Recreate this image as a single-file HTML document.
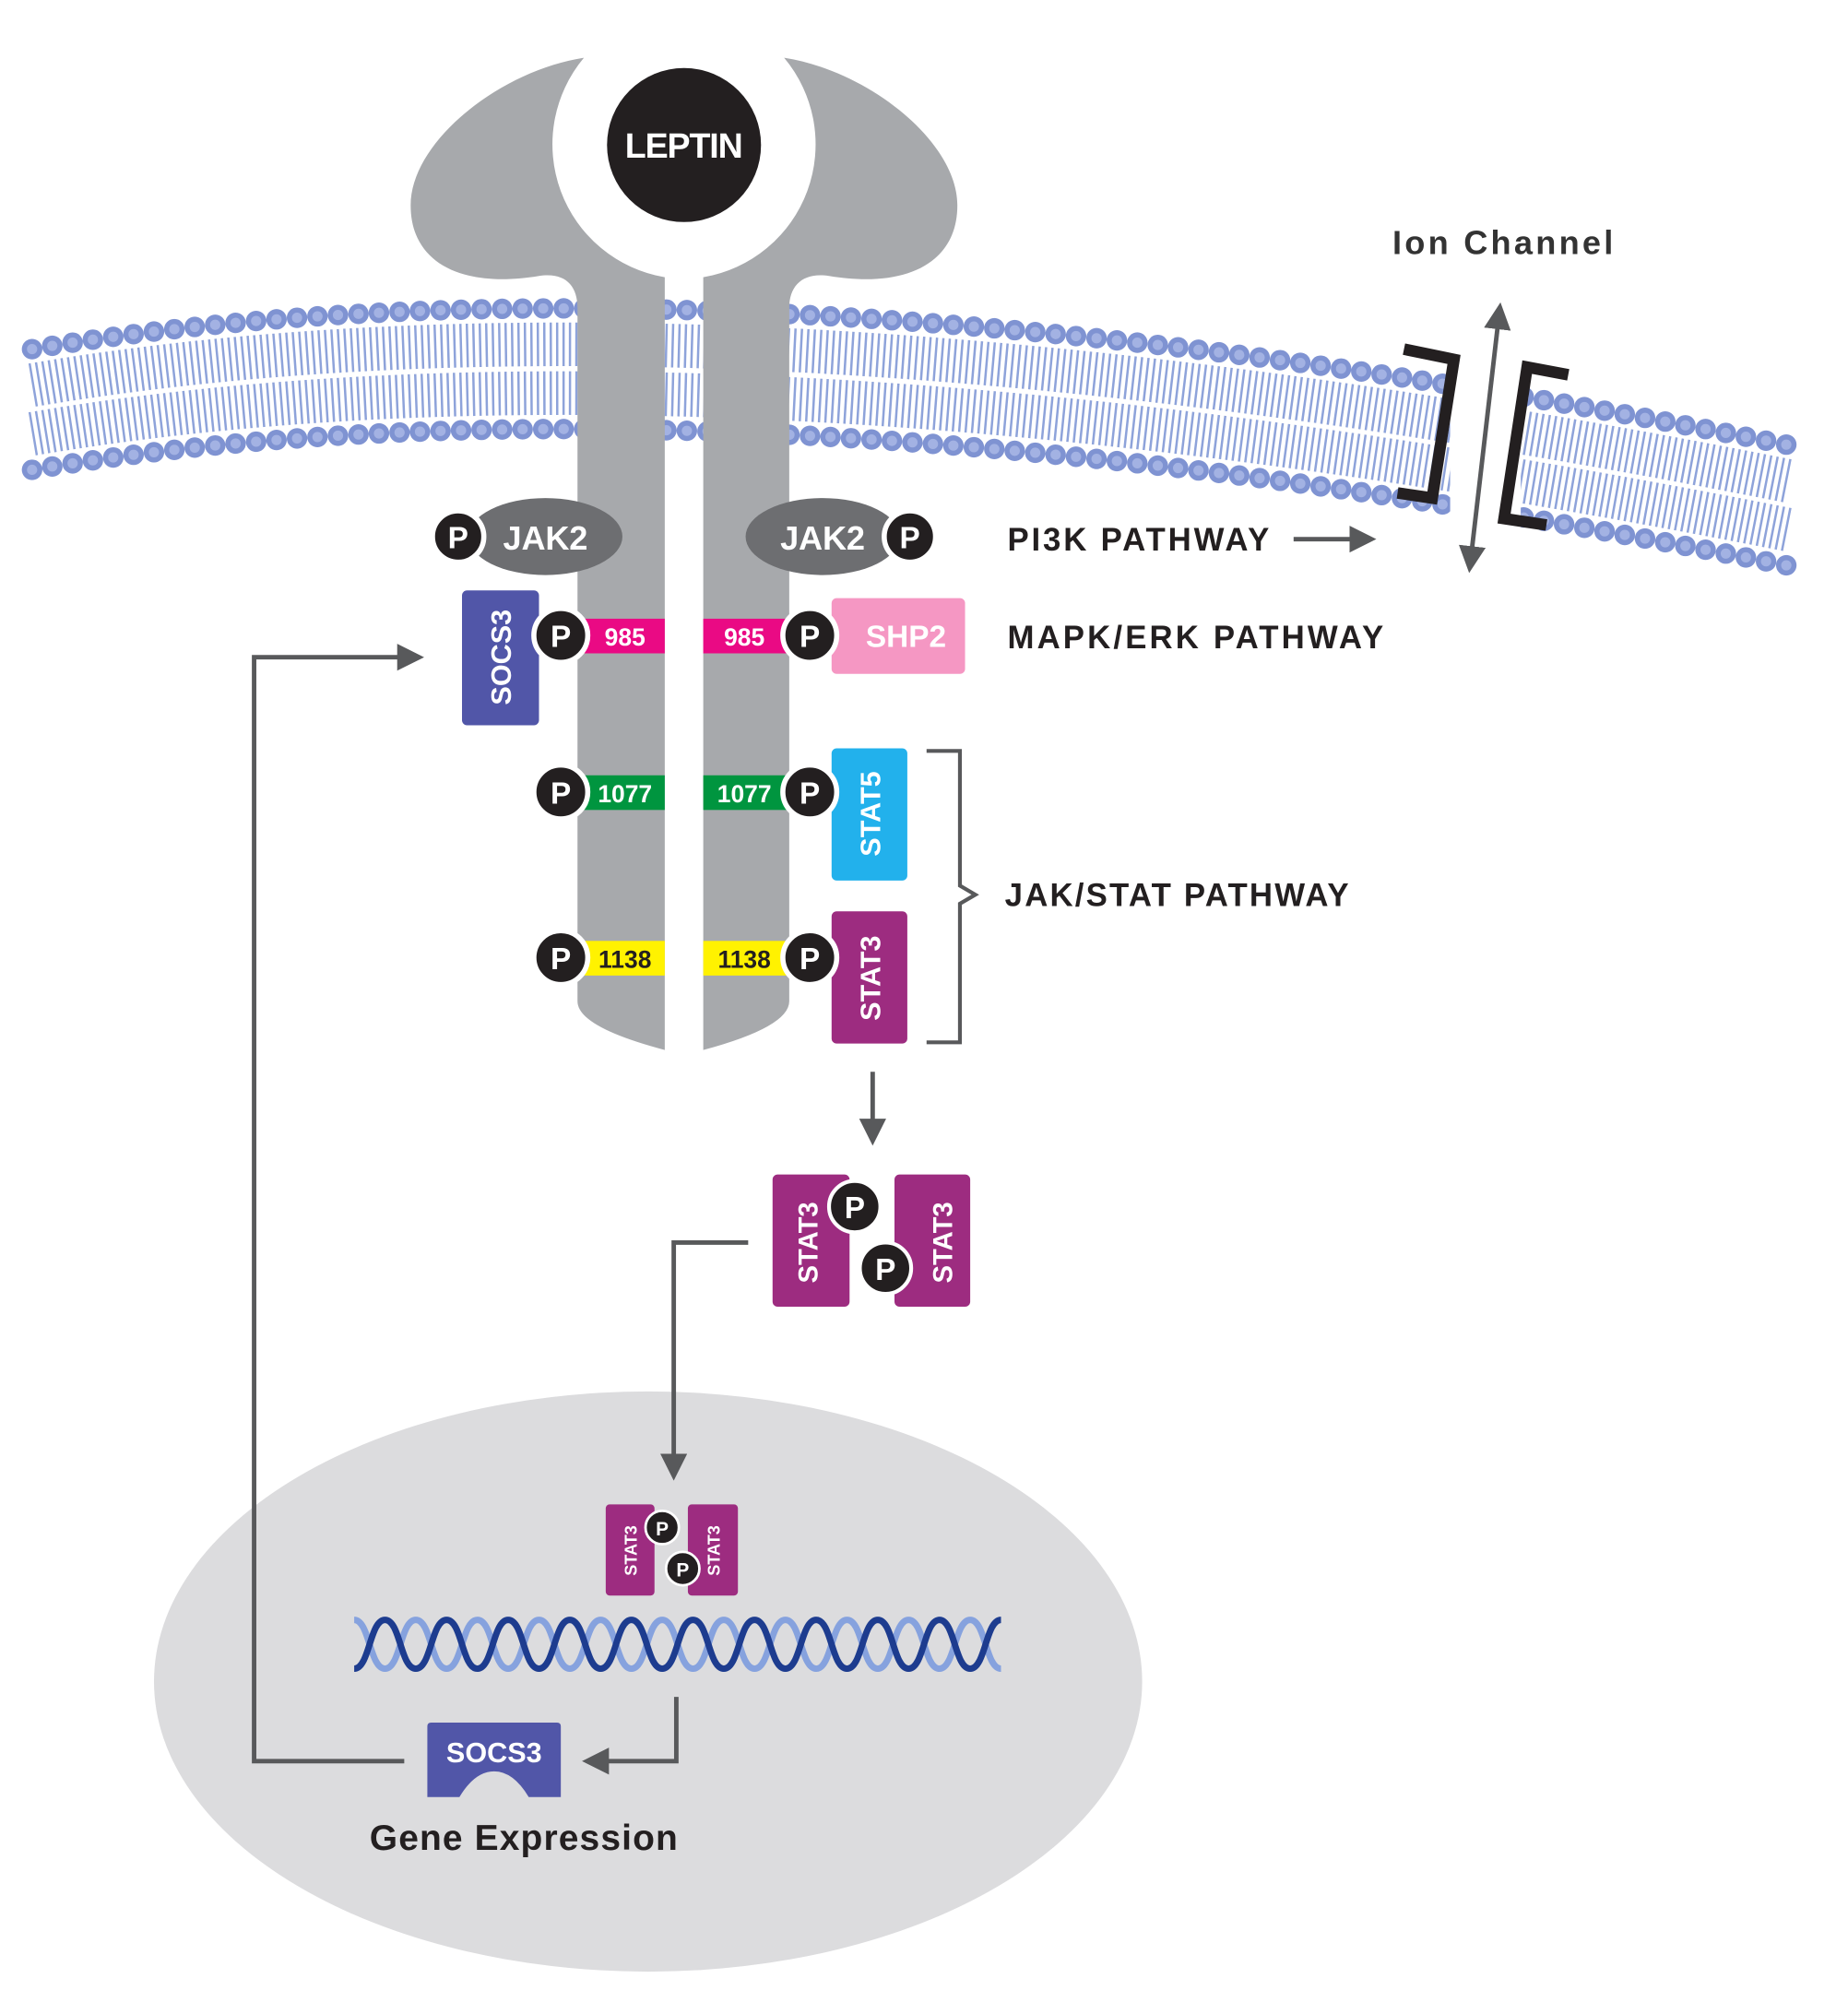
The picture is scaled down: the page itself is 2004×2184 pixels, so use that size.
<!DOCTYPE html>
<html><head><meta charset="utf-8"><style>
html,body{margin:0;padding:0;background:#fff;}
svg{display:block;}
text{font-family:"Liberation Sans",sans-serif;font-weight:bold;}
</style></head><body>
<svg width="2004" height="2184" viewBox="0 0 1440 1569" preserveAspectRatio="none" xmlns="http://www.w3.org/2000/svg">
<defs>
<marker id="ah" viewBox="0 0 10 10" refX="5" refY="5" markerWidth="6" markerHeight="6" orient="auto-start-reverse"><path d="M0,0 L10,5 L0,10 z" fill="#58595b"/></marker>
<clipPath id="memclip"><path d="M0,0 H1130 V600 H0 Z M1185,0 H1440 V600 H1185 Z"/></clipPath>
</defs>
<rect width="1440" height="1569" fill="#fff"/>

<!-- membrane -->
<g clip-path="url(#memclip)" fill="none" stroke-linecap="round" transform="translate(0,-20)">
  <path d="M25,338 Q560,248 1395,413" transform="translate(0,-18)" stroke="#8ea3da" stroke-width="34" stroke-dasharray="1.8 3.2" stroke-linecap="butt"/>
  <path d="M25,338 Q560,248 1395,413" transform="translate(0,20)" stroke="#8ea3da" stroke-width="34" stroke-dasharray="1.8 3.2" stroke-linecap="butt"/>
  <path d="M25,338 Q560,248 1395,413" transform="translate(0,-46)" stroke="#7f93d2" stroke-width="16" stroke-dasharray="0 16"/>
  <path d="M25,338 Q560,248 1395,413" transform="translate(0,-46)" stroke="#a3b2e3" stroke-width="8" stroke-dasharray="0 16"/>
  <path d="M25,338 Q560,248 1395,413" transform="translate(0,48)" stroke="#7f93d2" stroke-width="16" stroke-dasharray="0 16"/>
  <path d="M25,338 Q560,248 1395,413" transform="translate(0,48)" stroke="#a3b2e3" stroke-width="8" stroke-dasharray="0 16"/>
</g>

<!-- ion channel -->
<g fill="none" stroke="#231f20" stroke-width="9">
  <path d="M1094,272 L1133,280 L1116,388 L1089,384"/>
  <path d="M1222,292 L1190,286 L1172,404 L1205,409"/>
</g>
<line x1="1168" y1="246" x2="1146" y2="436" stroke="#58595b" stroke-width="3.5" marker-start="url(#ah)" marker-end="url(#ah)"/>
<text x="1085" y="198" font-size="26" fill="#333" textLength="172">Ion Channel</text>

<!-- receptor -->
<g fill="#a7a9ac">
  <path d="M455,45 C390,55 320,110 320,160 C320,205 360,225 420,215 C440,212 450,222 450,240 L450,780 Q450,800 518,818 L518,216 A105,105 0 0 1 455,45 Z"/>
  <path d="M611,45 C676,55 746,110 746,160 C746,205 706,225 646,215 C626,212 615,222 615,240 L615,780 Q615,800 548,818 L548,216 A105,105 0 0 0 611,45 Z"/>
</g>
<circle cx="533" cy="113" r="60" fill="#231f20"/>
<text x="533" y="123" font-size="27" fill="#fff" text-anchor="middle" textLength="92">LEPTIN</text>

<!-- JAK2 -->
<ellipse cx="425" cy="418" rx="60" ry="30" fill="#6d6e71"/>
<ellipse cx="641" cy="418" rx="60" ry="30" fill="#6d6e71"/>
<text x="425" y="428" font-size="26" fill="#fff" text-anchor="middle" textLength="66">JAK2</text>
<text x="641" y="428" font-size="26" fill="#fff" text-anchor="middle" textLength="66">JAK2</text>

<!-- SOCS3 / SHP2 / STAT boxes -->
<rect x="360" y="460" width="60" height="105" rx="4" fill="#5156a8"/>
<text transform="translate(398,512) rotate(-90)" font-size="22" fill="#fff" text-anchor="middle">SOCS3</text>
<rect x="648" y="466" width="104" height="59" rx="4" fill="#f597c3"/>
<text x="706" y="504" font-size="24" fill="#fff" text-anchor="middle">SHP2</text>
<rect x="648" y="583" width="59" height="103" rx="4" fill="#22b1ec"/>
<text transform="translate(686,634) rotate(-90)" font-size="22" fill="#fff" text-anchor="middle">STAT5</text>
<rect x="648" y="710" width="59" height="103" rx="4" fill="#9d2c80"/>
<text transform="translate(686,762) rotate(-90)" font-size="22" fill="#fff" text-anchor="middle">STAT3</text>

<!-- bars -->
<rect x="450" y="482" width="68" height="27" fill="#ea0a84"/>
<rect x="548" y="482" width="67" height="27" fill="#ea0a84"/>
<rect x="450" y="604" width="68" height="27" fill="#00953f"/>
<rect x="548" y="604" width="67" height="27" fill="#00953f"/>
<rect x="450" y="733" width="68" height="27" fill="#fff200"/>
<rect x="548" y="733" width="67" height="27" fill="#fff200"/>
<g font-size="19" text-anchor="middle">
<text x="487" y="503" fill="#fff">985</text><text x="580" y="503" fill="#fff">985</text>
<text x="487" y="625" fill="#fff">1077</text><text x="580" y="625" fill="#fff">1077</text>
<text x="487" y="754" fill="#231f20">1138</text><text x="580" y="754" fill="#231f20">1138</text>
</g>

<!-- P circles -->
<g fill="#231f20" stroke="#fff" stroke-width="4">
<circle cx="357" cy="418" r="20"/><circle cx="709" cy="418" r="20"/>
<circle cx="437" cy="495" r="21"/><circle cx="631" cy="495" r="21"/>
<circle cx="437" cy="617" r="21"/><circle cx="631" cy="617" r="21"/>
<circle cx="437" cy="746" r="21"/><circle cx="631" cy="746" r="21"/>
</g>
<g font-size="24" fill="#fff" text-anchor="middle" font-weight="normal">
<text x="357" y="427">P</text><text x="709" y="427">P</text>
<text x="437" y="504">P</text><text x="631" y="504">P</text>
<text x="437" y="626">P</text><text x="631" y="626">P</text>
<text x="437" y="755">P</text><text x="631" y="755">P</text>
</g>

<!-- pathway labels -->
<g font-size="25" fill="#231f20">
<text x="785" y="429" textLength="204">PI3K PATHWAY</text>
<text x="785" y="505" textLength="293">MAPK/ERK PATHWAY</text>
<text x="783" y="706" textLength="268">JAK/STAT PATHWAY</text>
</g>
<line x1="1008" y1="420" x2="1062" y2="420" stroke="#58595b" stroke-width="3.5" marker-end="url(#ah)"/>
<path d="M722,585 H748 V690 L760,697 L748,704 V812 H722" fill="none" stroke="#58595b" stroke-width="3"/>

<!-- arrow to dimer -->
<line x1="680" y1="835" x2="680" y2="882" stroke="#58595b" stroke-width="3.5" marker-end="url(#ah)"/>

<!-- dimer -->
<rect x="602" y="915" width="60" height="103" rx="4" fill="#9d2c80"/>
<rect x="697" y="915" width="59" height="103" rx="4" fill="#9d2c80"/>
<text transform="translate(637,968) rotate(-90)" font-size="21" fill="#fff" text-anchor="middle">STAT3</text>
<text transform="translate(742,968) rotate(-90)" font-size="21" fill="#fff" text-anchor="middle">STAT3</text>
<circle cx="666" cy="940" r="20" fill="#231f20" stroke="#fff" stroke-width="3"/>
<circle cx="690" cy="988" r="20" fill="#231f20" stroke="#fff" stroke-width="3"/>
<text x="666" y="949" font-size="24" fill="#fff" text-anchor="middle" font-weight="normal">P</text>
<text x="690" y="997" font-size="24" fill="#fff" text-anchor="middle" font-weight="normal">P</text>

<!-- nucleus -->
<ellipse cx="505" cy="1310" rx="385" ry="226" fill="#dcdcde"/>
<path d="M583,968 H525 V1143" fill="none" stroke="#58595b" stroke-width="3.5" marker-end="url(#ah)"/>

<!-- small dimer -->
<rect x="472" y="1172" width="38" height="71" rx="3" fill="#9d2c80"/>
<rect x="536" y="1172" width="39" height="71" rx="3" fill="#9d2c80"/>
<text transform="translate(496,1208) rotate(-90)" font-size="13" fill="#fff" text-anchor="middle">STAT3</text>
<text transform="translate(561,1208) rotate(-90)" font-size="13" fill="#fff" text-anchor="middle">STAT3</text>
<circle cx="516" cy="1190" r="13" fill="#231f20" stroke="#fff" stroke-width="2"/>
<circle cx="532" cy="1222" r="13" fill="#231f20" stroke="#fff" stroke-width="2"/>
<text x="516" y="1196" font-size="15" fill="#fff" text-anchor="middle" font-weight="normal">P</text>
<text x="532" y="1228" font-size="15" fill="#fff" text-anchor="middle" font-weight="normal">P</text>

<!-- DNA -->
<g fill="none" stroke-width="5">
<path stroke="#86a2de" d="M276,1262 C288,1262 288,1300 300,1300 C312,1300 312,1262 324,1262 C336,1262 336,1300 348,1300 C360,1300 360,1262 372,1262 C384,1262 384,1300 396,1300 C408,1300 408,1262 420,1262 C432,1262 432,1300 444,1300 C456,1300 456,1262 468,1262 C480,1262 480,1300 492,1300 C504,1300 504,1262 516,1262 C528,1262 528,1300 540,1300 C552,1300 552,1262 564,1262 C576,1262 576,1300 588,1300 C600,1300 600,1262 612,1262 C624,1262 624,1300 636,1300 C648,1300 648,1262 660,1262 C672,1262 672,1300 684,1300 C696,1300 696,1262 708,1262 C720,1262 720,1300 732,1300 C744,1300 744,1262 756,1262 C768,1262 768,1300 780,1300"/>
<path stroke="#1d3c8f" d="M276,1300 C288,1300 288,1262 300,1262 C312,1262 312,1300 324,1300 C336,1300 336,1262 348,1262 C360,1262 360,1300 372,1300 C384,1300 384,1262 396,1262 C408,1262 408,1300 420,1300 C432,1300 432,1262 444,1262 C456,1262 456,1300 468,1300 C480,1300 480,1262 492,1262 C504,1262 504,1300 516,1300 C528,1300 528,1262 540,1262 C552,1262 552,1300 564,1300 C576,1300 576,1262 588,1262 C600,1262 600,1300 612,1300 C624,1300 624,1262 636,1262 C648,1262 648,1300 660,1300 C672,1300 672,1262 684,1262 C696,1262 696,1300 708,1300 C720,1300 720,1262 732,1262 C744,1262 744,1300 756,1300 C768,1300 768,1262 780,1262"/>
</g>

<!-- SOCS3 gene -->
<path d="M527,1322 V1372 H464" fill="none" stroke="#58595b" stroke-width="3.5" marker-end="url(#ah)"/>
<path d="M336,1342 H434 Q437,1342 437,1345 V1400 H412 Q400,1380 385,1380 Q370,1380 358,1400 H333 V1345 Q333,1342 336,1342 Z" fill="#5156a8"/>
<text x="385" y="1373" font-size="22" fill="#fff" text-anchor="middle">SOCS3</text>
<text x="408" y="1441" font-size="28" fill="#231f20" text-anchor="middle" textLength="240">Gene Expression</text>

<!-- feedback -->
<path d="M315,1372 H198 V512 H320" fill="none" stroke="#58595b" stroke-width="3.5" marker-end="url(#ah)"/>
</svg>
</body></html>
